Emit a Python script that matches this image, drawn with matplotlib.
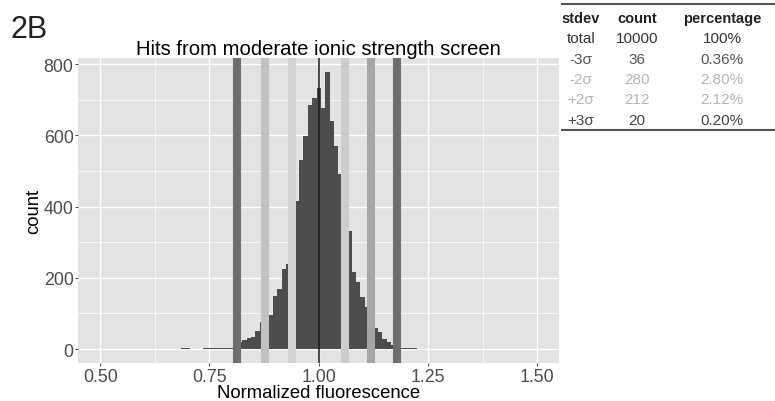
import matplotlib.pyplot as plt
import numpy as np
from matplotlib.lines import Line2D
from matplotlib.ticker import MultipleLocator

plt.rcParams['font.family'] = ['Liberation Sans', 'DejaVu Sans']

# histogram bins (centre of each 0.01 wide bin) and counts
bin_centers = [0.59, 0.60, 0.62, 0.63, 0.65, 0.66, 0.68, 0.69, 0.70, 0.71,
               0.72, 0.74, 0.75, 0.76, 0.77, 0.78, 0.79, 0.80, 0.81, 0.82,
               0.83, 0.84, 0.85, 0.86, 0.87, 0.88, 0.89, 0.90, 0.91, 0.92,
               0.93, 0.94, 0.95, 0.96, 0.97, 0.98, 0.99, 1.00, 1.01, 1.02,
               1.03, 1.04, 1.05, 1.06, 1.07, 1.08, 1.09, 1.10, 1.11, 1.12,
               1.13, 1.14, 1.15, 1.16, 1.17, 1.18, 1.19, 1.20, 1.21, 1.22,
               1.23, 1.24, 1.25, 1.26, 1.40]
counts = [1, 1, 1, 1, 1, 1, 1, 2, 2, 1,
          1, 2, 3, 3, 2, 2, 3, 4, 8, 20,
          26, 30, 34, 51, 75, 85, 96, 150, 170, 225,
          238, 330, 416, 531, 599, 686, 705, 732, 676, 777,
          639, 569, 491, 410, 332, 217, 187, 145, 119, 85,
          59, 47, 28, 19, 12, 6, 3, 3, 2, 2,
          1, 1, 1, 1, 1]

# sigma lines: -3, -2, -1, mean, +1, +2, +3
sigma_pos = [0.813, 0.878, 0.938, 1.0, 1.06, 1.12, 1.179]
sigma_col = ['#6e6e6e', '#c2c2c2', '#d3d3d3', '#1a1a1a', '#cdcdcd', '#a6a6a6', '#6e6e6e']
sigma_lw = [5.8, 5.8, 5.8, 1.1, 5.8, 5.8, 5.8]

# summary table
tbl_header = ['stdev', 'count', 'percentage']
tbl_rows = [['total', '10000', '100%'],
            ['-3σ', '36', '0.36%'],
            ['-2σ', '280', '2.80%'],
            ['+2σ', '212', '2.12%'],
            ['+3σ', '20', '0.20%']]
tbl_colors = ['#333333', '#555555', '#b5b5b5', '#b5b5b5', '#444444']

W, H = 775, 402
fig = plt.figure(figsize=(W / 100, H / 100), dpi=100)
ax = fig.add_axes([78.3 / W, 1 - 364 / H, (559.3 - 78.3) / W, (364 - 59.3) / H])

ax.set_facecolor('#e3e3e3')
for s in ax.spines.values():
    s.set_visible(False)
ax.xaxis.set_major_locator(MultipleLocator(0.25))
ax.xaxis.set_minor_locator(MultipleLocator(0.125))
ax.yaxis.set_major_locator(MultipleLocator(200))
ax.yaxis.set_minor_locator(MultipleLocator(100))
ax.grid(which='major', color='white', lw=1.0)
ax.grid(which='minor', color='white', lw=0.5)
ax.set_axisbelow(True)
ax.tick_params(which='major', length=2.2, width=0.7, color='#444444',
               labelsize=12.8, labelcolor='#4d4d4d', pad=1.2)
ax.tick_params(which='minor', length=0)

ax.bar(bin_centers, counts, width=0.01, color='#4d4d4d', linewidth=0, zorder=2)
for xp, c, lw in zip(sigma_pos, sigma_col, sigma_lw):
    ax.axvline(xp, color=c, lw=lw, zorder=3)

ax.set_xlim(0.45, 1.55)
ax.set_ylim(-39, 816)
ax.set_xticks([0.5, 0.75, 1.0, 1.25, 1.5])
ax.set_xticklabels(['0.50', '0.75', '1.00', '1.25', '1.50'])
ax.set_xlabel('Normalized fluorescence', fontsize=13.3)
ax.xaxis.set_label_coords(0.5, -29.5 / 304.7, transform=ax.transAxes)
ax.xaxis.label.set_va('center')
ax.set_ylabel('count', fontsize=13.3, labelpad=1)
ax.set_title('Hits from moderate ionic strength screen', fontsize=14.6, pad=3)

fig.text(11 / W, 1 - 38 / H, '2B', fontsize=22, color='#222222', va='baseline')

# table at top right
col_x = [581, 637, 722]
row_y = [19, 39, 60, 80, 100, 121]
for x, t in zip(col_x, tbl_header):
    fig.text(x / W, 1 - row_y[0] / H, t, fontsize=10.5, fontweight='bold',
             color='#222222', ha='center', va='center')
for r, row in enumerate(tbl_rows):
    for x, t in zip(col_x, row):
        fig.text(x / W, 1 - row_y[r + 1] / H, t, fontsize=11,
                 color=tbl_colors[r], ha='center', va='center')
for yy in (5, 131):
    fig.add_artist(Line2D([562 / W, 775 / W], [1 - yy / H, 1 - yy / H],
                          color='#555555', lw=1.5))

fig.savefig('out.png', dpi=100)
